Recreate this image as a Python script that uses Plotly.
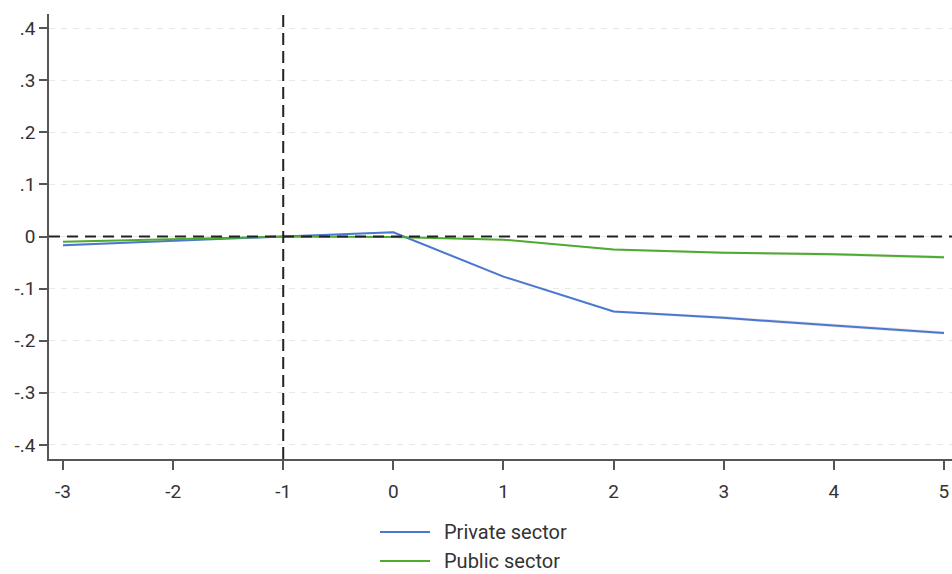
import plotly.graph_objects as go

# Event time relative to the reform year
years = [-3, -2, -1, 0, 1, 2, 3, 4, 5]

# Point estimates and confidence bounds
private = [-0.017, -0.008, 0.0, 0.008, -0.077, -0.144, -0.156, -0.171, -0.185]
private_lo = [-0.019, -0.010, 0.0, 0.006, -0.079, -0.146, -0.159, -0.174, -0.188]
private_hi = [-0.015, -0.006, 0.0, 0.010, -0.075, -0.142, -0.153, -0.168, -0.182]

public = [-0.010, -0.005, 0.0, -0.001, -0.006, -0.025, -0.031, -0.034, -0.040]
public_lo = [-0.011, -0.006, 0.0, -0.002, -0.007, -0.027, -0.033, -0.037, -0.043]
public_hi = [-0.009, -0.004, 0.0, 0.000, -0.005, -0.023, -0.029, -0.031, -0.037]

series_names = ["Private sector", "Public sector"]

y_ticks = [-0.4, -0.3, -0.2, -0.1, 0, 0.1, 0.2, 0.3, 0.4]
y_labels = ["-.4", "-.3", "-.2", "-.1", "0", ".1", ".2", ".3", ".4"]

BLUE = "#4a78d0"
GREEN = "#4fab2e"
FONT = "Roboto"

W, H = 952, 574
ML, MR, MT, MB = 49, 0, 14, 115

fig = go.Figure()


def band(lo, hi):
    fig.add_trace(go.Scatter(x=years, y=hi, mode="lines", line=dict(width=0),
                             showlegend=False, hoverinfo="skip"))
    fig.add_trace(go.Scatter(x=years, y=lo, mode="lines", line=dict(width=0),
                             fill="tonexty", fillcolor="rgba(180,180,180,0.35)",
                             showlegend=False, hoverinfo="skip"))


band(private_lo, private_hi)
band(public_lo, public_hi)

fig.add_trace(go.Scatter(x=years, y=private, mode="lines", name=series_names[0],
                         line=dict(color=BLUE, width=2), showlegend=False))
fig.add_trace(go.Scatter(x=years, y=public, mode="lines", name=series_names[1],
                         line=dict(color=GREEN, width=2), showlegend=False))

# Reference lines: zero effect and the base year
fig.add_shape(type="line", xref="paper", yref="y", x0=0, x1=1, y0=0, y1=0,
              line=dict(color="#222", width=2, dash="11px,7px"), layer="above")
fig.add_shape(type="line", xref="x", yref="paper", x0=-1, x1=-1, y0=0, y1=1,
              line=dict(color="#222", width=2, dash="12px,6px"), layer="above")

# Legend below the plot, stacked and centred
plot_w = W - ML - MR
plot_h = H - MT - MB


def px_x(px):
    return (px - ML) / plot_w


def px_y(py):
    return (H - MB - py) / plot_h


for i, (name, color) in enumerate(zip(series_names, [BLUE, GREEN])):
    yy = px_y(532 + 29 * i)
    fig.add_shape(type="line", xref="paper", yref="paper",
                  x0=px_x(380), x1=px_x(430), y0=yy, y1=yy,
                  line=dict(color=color, width=2))
    fig.add_annotation(xref="paper", yref="paper", x=px_x(443), y=yy,
                       text=name, showarrow=False, xanchor="left", yanchor="middle",
                       borderpad=0,
                       font=dict(family=FONT, size=20, color="#333"))

fig.update_layout(
    width=W, height=H,
    margin=dict(l=ML, r=MR, t=MT, b=MB),
    paper_bgcolor="white", plot_bgcolor="white",
    font=dict(family=FONT, size=19, color="#333"),
    showlegend=False,
    xaxis=dict(range=[-3.127, 5.073], tickvals=years, ticktext=[str(v) for v in years],
               showgrid=False, zeroline=False, showline=True, linecolor="#555",
               linewidth=1.5, ticks="outside", ticklen=9, tickcolor="#555",
               tickwidth=1.5, tickfont=dict(size=19), ticklabelstandoff=5),
    yaxis=dict(range=[-0.427, 0.427], tickvals=y_ticks, ticktext=y_labels,
               showgrid=True, gridcolor="#e8e8e8", griddash="6px,6px", gridwidth=1.2,
               zeroline=False, showline=True, linecolor="#555", linewidth=1.5,
               ticks="outside", ticklen=8, tickcolor="#555", tickwidth=1.5,
               tickfont=dict(size=19)),
)

fig.write_html("out.html")
